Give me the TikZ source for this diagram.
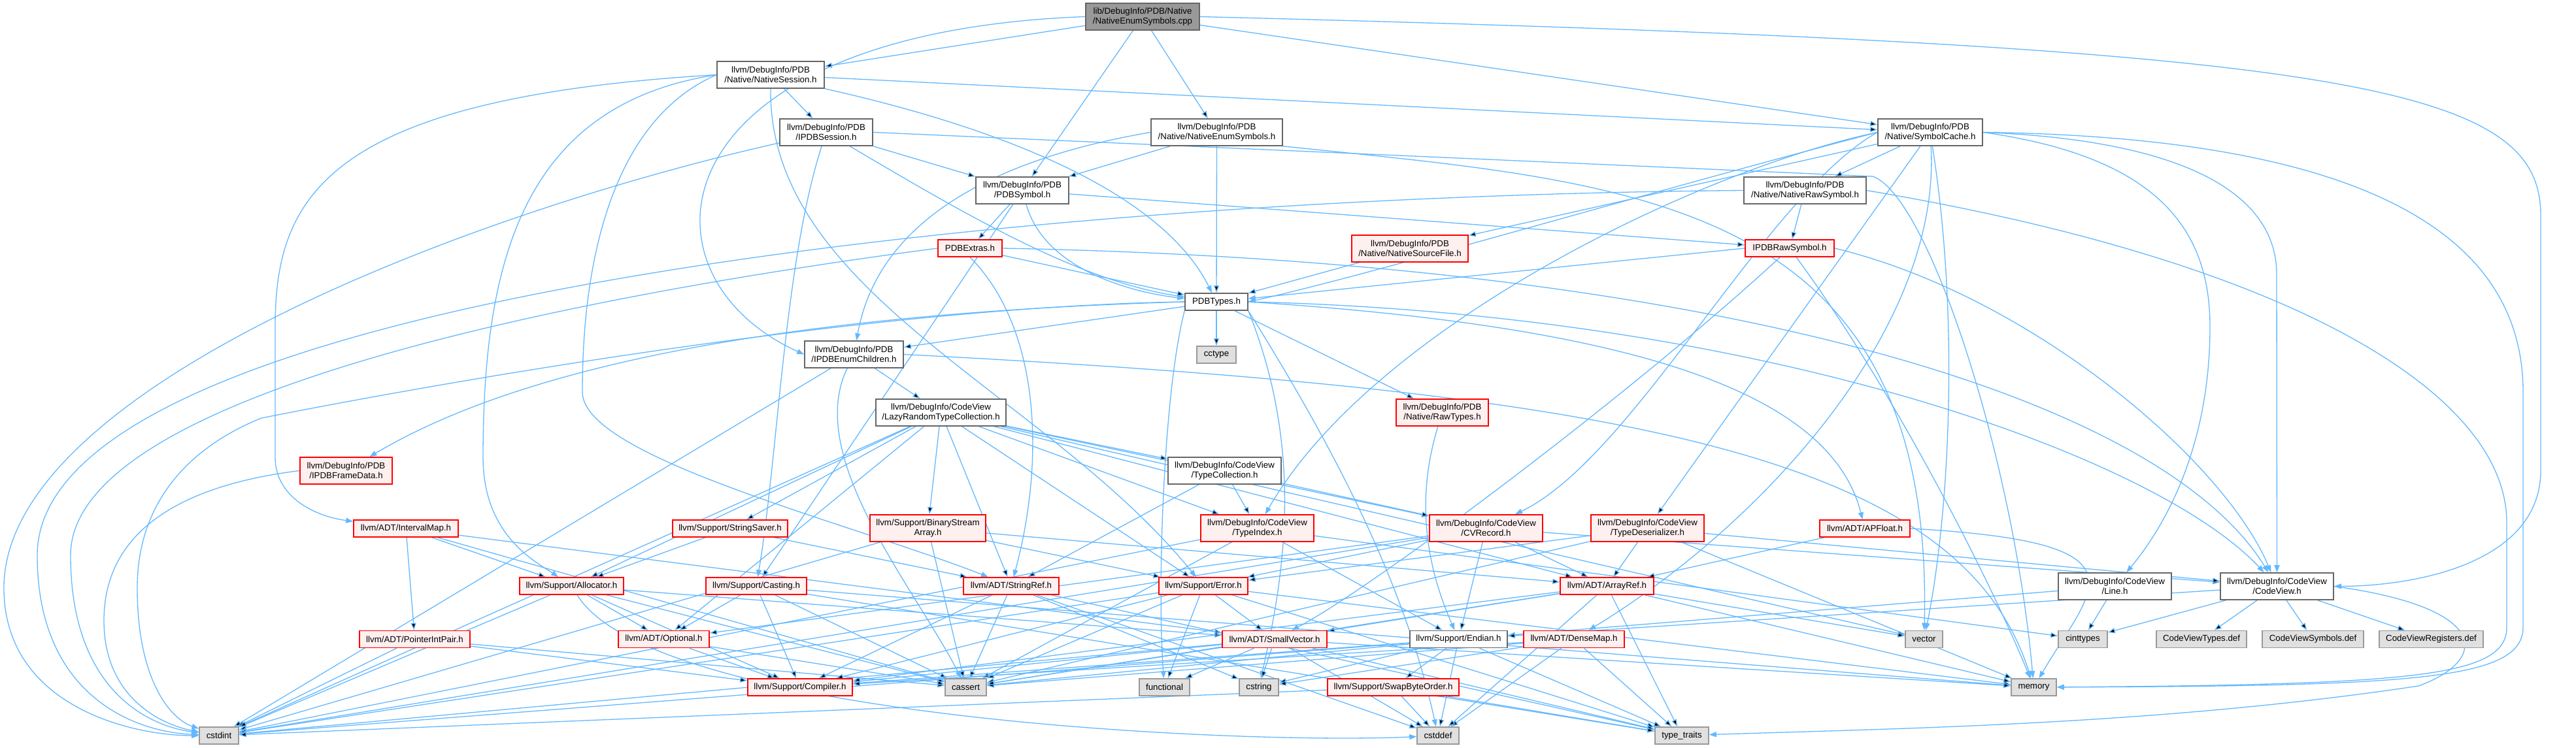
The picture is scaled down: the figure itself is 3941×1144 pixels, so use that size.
\documentclass[tikz,border=0pt]{standalone}
\usepackage{fontspec}
\setmainfont{Liberation Sans}
\usetikzlibrary{arrows.meta,backgrounds}
\definecolor{edgec}{HTML}{63B8FF}
\definecolor{redb}{HTML}{FF0000}
\definecolor{redf}{HTML}{FFF0F0}
\definecolor{sysf}{HTML}{E0E0E0}
\definecolor{sysb}{HTML}{999999}
\definecolor{normb}{HTML}{666666}
\definecolor{rootf}{HTML}{999999}
\tikzset{
 base/.style={rectangle, inner sep=0pt, align=center, font=\fontsize{13.3}{15}\selectfont, line width=1.6pt},
 nbox/.style={base, draw=normb, fill=white},
 rbox/.style={base, draw=redb, fill=redf},
 sbox/.style={base, draw=sysb, fill=sysf},
 rootbox/.style={base, draw=normb, fill=rootf},
 two/.style={minimum height=41pt},
 one/.style={minimum height=26pt},
 dep/.style={draw=edgec, line width=1.3pt, -{Triangle[length=11pt,width=8pt]}},
}
\begin{document}
\begin{tikzpicture}[x=1pt,y=-1pt]
\useasboundingbox (0,0) rectangle (3941,1144);
% ---------- nodes ----------
\node[rootbox,two,minimum width=174pt] (root) at (1748,25.5) {lib/DebugInfo/PDB/Native\\/NativeEnumSymbols.cpp};
\node[nbox,two,minimum width=164pt] (nsess) at (1179,114.5) {llvm/DebugInfo/PDB\\/Native/NativeSession.h};
\node[nbox,two,minimum width=142pt] (ipdbsess) at (1264,202.5) {llvm/DebugInfo/PDB\\/IPDBSession.h};
\node[nbox,two,minimum width=201pt] (nes) at (1861.5,202.5) {llvm/DebugInfo/PDB\\/Native/NativeEnumSymbols.h};
\node[nbox,two,minimum width=142pt] (pdbsym) at (1564,291.5) {llvm/DebugInfo/PDB\\/PDBSymbol.h};
\node[rbox,one,minimum width=98pt] (pdbextras) at (1484,380) {PDBExtras.h};
\node[nbox,one,minimum width=96pt] (pdbtypes) at (1861,462) {PDBTypes.h};
\node[sbox,one,minimum width=60pt] (cctype) at (1861,543) {cctype};
\node[nbox,two,minimum width=151pt] (enumch) at (1306.5,542.5) {llvm/DebugInfo/PDB\\/IPDBEnumChildren.h};
\node[nbox,two,minimum width=160pt] (symc) at (2953,202.5) {llvm/DebugInfo/PDB\\/Native/SymbolCache.h};
\node[nbox,two,minimum width=187pt] (nraw) at (2761.5,291.5) {llvm/DebugInfo/PDB\\/Native/NativeRawSymbol.h};
\node[rbox,two,minimum width=178pt] (nsrc) at (2157,380.5) {llvm/DebugInfo/PDB\\/Native/NativeSourceFile.h};
\node[rbox,one,minimum width=136pt] (ipdbraw) at (2738,380) {IPDBRawSymbol.h};
\node[rbox,two,minimum width=141pt] (frame) at (529.5,720.5) {llvm/DebugInfo/PDB\\/IPDBFrameData.h};
\node[rbox,one,minimum width=160pt] (imap) at (621,809) {llvm/ADT/IntervalMap.h};
\node[rbox,one,minimum width=159pt] (alloc) at (874.5,897) {llvm/Support/Allocator.h};
\node[rbox,one,minimum width=169pt] (pip) at (634.5,978.5) {llvm/ADT/PointerIntPair.h};
\node[sbox,one,minimum width=60pt] (cstdint) at (335,1126) {cstdint};
\node[rbox,one,minimum width=139pt] (optional) at (1015.5,978.5) {llvm/ADT/Optional.h};
\node[nbox,two,minimum width=199pt] (lazy) at (1439.5,631.5) {llvm/DebugInfo/CodeView\\/LazyRandomTypeCollection.h};
\node[nbox,two,minimum width=173pt] (tcoll) at (1873.5,720.5) {llvm/DebugInfo/CodeView\\/TypeCollection.h};
\node[rbox,one,minimum width=176pt] (ssaver) at (1117,809) {llvm/Support/StringSaver.h};
\node[rbox,two,minimum width=177pt] (bsa) at (1419.5,808.5) {llvm/Support/BinaryStream\\Array.h};
\node[rbox,two,minimum width=173pt] (tindex) at (1923.5,808.5) {llvm/DebugInfo/CodeView\\/TypeIndex.h};
\node[rbox,one,minimum width=154pt] (casting) at (1157,897) {llvm/Support/Casting.h};
\node[rbox,one,minimum width=146pt] (sref) at (1547,897) {llvm/ADT/StringRef.h};
\node[rbox,one,minimum width=136pt] (error) at (1841,897) {llvm/Support/Error.h};
\node[rbox,one,minimum width=160pt] (svec) at (1950,978.5) {llvm/ADT/SmallVector.h};
\node[rbox,one,minimum width=160pt] (compiler) at (1224,1052) {llvm/Support/Compiler.h};
\node[sbox,one,minimum width=63pt] (cassert) at (1477.5,1052) {cassert};
\node[sbox,one,minimum width=77pt] (functional) at (1781.5,1052) {functional};
\node[sbox,one,minimum width=60pt] (cstring) at (1926,1052) {cstring};
\node[rbox,two,minimum width=141pt] (rawtypes) at (2206.5,631.5) {llvm/DebugInfo/PDB\\/Native/RawTypes.h};
\node[rbox,two,minimum width=173pt] (cvrec) at (2273.5,808.5) {llvm/DebugInfo/CodeView\\/CVRecord.h};
\node[rbox,two,minimum width=173pt] (tdeser) at (2520.5,808.5) {llvm/DebugInfo/CodeView\\/TypeDeserializer.h};
\node[rbox,one,minimum width=138pt] (apfloat) at (2853,809) {llvm/ADT/APFloat.h};
\node[rbox,one,minimum width=143pt] (aref) at (2458.5,897) {llvm/ADT/ArrayRef.h};
\node[nbox,one,minimum width=149pt] (endian) at (2231.5,978.5) {llvm/Support/Endian.h};
\node[rbox,one,minimum width=154pt] (densemap) at (2408,978.5) {llvm/ADT/DenseMap.h};
\node[rbox,one,minimum width=201pt] (swap) at (2131.5,1052) {llvm/Support/SwapByteOrder.h};
\node[sbox,one,minimum width=64pt] (cstddef) at (2200,1126) {cstddef};
\node[sbox,one,minimum width=82pt] (ttraits) at (2573,1126) {type\_traits};
\node[sbox,one,minimum width=57pt] (vector) at (2943.5,978.5) {vector};
\node[nbox,two,minimum width=173pt] (line) at (3235.5,897.5) {llvm/DebugInfo/CodeView\\/Line.h};
\node[nbox,two,minimum width=173pt] (cv) at (3483.5,897.5) {llvm/DebugInfo/CodeView\\/CodeView.h};
\node[sbox,one,minimum width=75pt] (cinttypes) at (3186.5,978.5) {cinttypes};
\node[sbox,one,minimum width=138pt] (cvtypes) at (3368,978.5) {CodeViewTypes.def};
\node[sbox,one,minimum width=155pt] (cvsyms) at (3538.5,978.5) {CodeViewSymbols.def};
\node[sbox,one,minimum width=159pt] (cvregs) at (3719.5,978.5) {CodeViewRegisters.def};
\node[sbox,one,minimum width=69pt] (memory) at (3111.5,1052) {memory};
% ---------- edges ----------
\begin{pgfonlayer}{background}
% root
\draw[dep] (root) edge (nsess) edge (pdbsym) edge (nes) edge (symc);
\draw[dep] (root.west) .. controls (1000,50) and (960,420) .. (enumch.west);
\draw[dep] (root.east) .. controls (3600,70) and (3887,130) .. (3887,330) -- (3887,720) .. controls (3887,860) and (3700,897) .. (cv.east);
% NativeSession
\draw[dep] (nsess) edge (ipdbsess) edge (symc);
\draw[dep] (nsess.south east) .. controls (1550,200) and (1780,300) .. (pdbtypes);
\draw[dep] (nsess.west) .. controls (500,150) and (421,300) .. (421,500) -- (421,700) .. controls (421,760) and (480,790) .. (imap);
\draw[dep] (nsess.west) .. controls (800,160) and (739,400) .. (739,700) .. controls (739,820) and (820,860) .. (alloc);
\draw[dep] (nsess.west) .. controls (900,200) and (891,500) .. (891,600) .. controls (891,700) and (1300,800) .. (sref);
\draw[dep] (nsess.south) .. controls (1175,450) and (1600,600) .. (error);
% IPDBSession
\draw[dep] (ipdbsess) edge (pdbsym);
\draw[dep] (ipdbsess) .. controls (1480,330) and (1650,430) .. (pdbtypes);
\draw[dep] (ipdbsess.east) -- (2865,270) .. controls (2950,300) and (3080,700) .. (memory);
\draw[dep] (ipdbsess) .. controls (700,330) and (6,600) .. (6,900) .. controls (6,1080) and (200,1126) .. (cstdint.west);
\draw[dep] (ipdbsess) .. controls (1200,400) and (1190,700) .. (casting);
% NativeEnumSymbols.h
\draw[dep] (nes) edge (pdbsym) edge (pdbtypes);
\draw[dep] (nes.west) .. controls (1600,230) and (1350,300) .. (enumch);
\draw[dep] (nes.south east) .. controls (2500,280) and (2960,300) .. (vector);
% PDBSymbol
\draw[dep] (pdbsym) edge (ipdbraw) edge (pdbextras) edge (casting);
\draw[dep] (pdbsym) .. controls (1600,420) and (1750,450) .. (pdbtypes);
% PDBExtras
\draw[dep] (pdbextras) edge (pdbtypes);
\draw[dep] (pdbextras.east) .. controls (2600,400) and (3300,600) .. (cv);
\draw[dep] (pdbextras.west) .. controls (900,450) and (108,600) .. (108,850) .. controls (108,1050) and (220,1110) .. (cstdint);
\draw[dep] (pdbextras.south) .. controls (1590,500) and (1600,700) .. (sref);
% PDBTypes
\draw[dep] (pdbtypes) edge (cctype) edge (enumch) edge (rawtypes);
\draw[dep] (pdbtypes.west) .. controls (1200,480) and (800,560) .. (frame);
\draw[dep] (pdbtypes.east) .. controls (2500,500) and (2800,600) .. (apfloat);
\draw[dep] (pdbtypes.east) .. controls (2700,480) and (3300,700) .. (cv);
\draw[dep] (pdbtypes.south east) .. controls (2050,700) and (2150,900) .. (cstddef);
\draw[dep] (pdbtypes.west) .. controls (1300,470) and (600,600) .. (400,640) .. controls (300,680) and (210,760) .. (210,900) .. controls (210,1040) and (260,1100) .. (cstdint);
\draw[dep] (pdbtypes.south east) .. controls (2000,700) and (1960,900) .. (cstring);
\draw[dep] (pdbtypes.south west) .. controls (1780,600) and (1770,900) .. (functional);
% IPDBEnumChildren
\draw[dep] (enumch) edge (lazy) edge (cstdint);
\draw[dep] (enumch.east) .. controls (2500,600) and (3000,700) .. (memory);
\draw[dep] (enumch) .. controls (1230,700) and (1400,900) .. (cassert);
% SymbolCache
\draw[dep] (symc) edge (nraw) edge (nsrc) edge (tdeser);
\draw[dep] (symc.west) .. controls (2500,300) and (2100,420) .. (pdbtypes.east);
\draw[dep] (symc.west) .. controls (2700,300) and (2500,700) .. (cvrec);
\draw[dep] (symc.west) .. controls (2600,260) and (2100,500) .. (tindex);
\draw[dep] (symc) .. controls (2970,500) and (2700,800) .. (densemap);
\draw[dep] (symc.east) .. controls (3300,240) and (3381,350) .. (3381,500) .. controls (3381,700) and (3300,820) .. (line);
\draw[dep] (symc.east) .. controls (3350,215) and (3483,300) .. (3483,420) -- (cv);
\draw[dep] (symc.east) .. controls (3600,210) and (3860,350) .. (3860,600) -- (3860,960) .. controls (3860,1040) and (3700,1050) .. (memory);
\draw[dep] (symc) .. controls (3000,500) and (2980,800) .. (vector);
% NativeRawSymbol
\draw[dep] (nraw) edge (ipdbraw);
\draw[dep] (nraw.west) .. controls (1600,300) and (57,450) .. (57,850) .. controls (57,1060) and (200,1120) .. (cstdint);
\draw[dep] (nraw.east) .. controls (3500,400) and (3835,600) .. (3835,800) -- (3835,960) .. controls (3835,1035) and (3700,1048) .. (memory);
% IPDBRawSymbol
\draw[dep] (ipdbraw.west) -- (pdbtypes);
\draw[dep] (ipdbraw) .. controls (2500,600) and (2100,900) .. (svec);
\draw[dep] (ipdbraw.east) .. controls (3100,450) and (3400,700) .. (cv);
\draw[dep] (ipdbraw) .. controls (2900,600) and (3050,900) .. (memory);
% NativeSourceFile, RawTypes, FrameData
\draw[dep] (nsrc) edge (pdbtypes);
\draw[dep] (rawtypes) .. controls (2170,750) and (2175,850) .. (endian);
\draw[dep] (frame.west) .. controls (300,740) and (159,800) .. (159,950) .. controls (159,1070) and (250,1110) .. (cstdint);
% IntervalMap
\draw[dep] (imap) edge (pip) edge (alloc) edge (svec) edge (cassert);
% Allocator
\draw[dep] (alloc) edge (optional) edge (svec) edge (compiler) edge (cassert) edge (cstdint);
\draw[dep] (alloc) .. controls (1000,1100) and (1900,1140) .. (cstddef);
% PointerIntPair, Optional, Casting
\draw[dep] (pip) edge (compiler) edge (cassert) edge (cstdint);
\draw[dep] (optional) edge (compiler) edge (cassert);
\draw[dep] (casting) edge (optional) edge (compiler) edge (cassert) edge (memory) edge (ttraits);
% LazyRandomTypeCollection
\draw[dep] (lazy) edge (tcoll) edge (tindex) edge (cvrec) edge (ssaver) edge (bsa) edge (sref) edge (error) edge (aref) edge (optional) edge (alloc) edge (cstdint) edge (vector);
% TypeCollection, StringSaver, BinaryStreamArray, TypeIndex
\draw[dep] (tcoll) edge (sref) edge (tindex) edge (cvrec);
\draw[dep] (ssaver) edge (sref) edge (alloc);
\draw[dep] (bsa) edge (aref) edge (error) edge (cassert) edge (cstdint);
\draw[dep] (tindex) edge (endian) edge (cinttypes) edge (cassert) edge (cstdint);
% CVRecord, TypeDeserializer, APFloat
\draw[dep] (cvrec) edge (aref) edge (endian) edge (error) edge (optional) edge (cv) edge (cstdint);
\draw[dep] (tdeser) edge (aref) edge (error) edge (cv) edge (cassert) edge (memory);
\draw[dep] (apfloat) edge (aref);
\draw[dep] (apfloat.east) .. controls (3300,830) and (3200,900) .. (memory);
% StringRef, Error, SmallVector
\draw[dep] (sref) edge (compiler) edge (cassert) edge (cstddef) edge (cstring) edge (ttraits);
\draw[dep] (error) edge (compiler) edge (svec) edge (cassert) edge (cstdint) edge (functional) edge (memory) edge (ttraits);
\draw[dep] (svec) edge (compiler) edge (cassert) edge (cstddef) edge (cstdint) edge (cstring) edge (functional) edge (memory) edge (ttraits);
% Endian, DenseMap, SwapByteOrder, ArrayRef
\draw[dep] (endian) edge (swap) edge (compiler) edge (cassert) edge (cstddef) edge (cstdint) edge (cstring) edge (ttraits);
\draw[dep] (densemap) edge (compiler) edge (cassert) edge (cstddef) edge (cstring) edge (ttraits);
\draw[dep] (swap) edge (cstddef) edge (cstdint) edge (ttraits);
\draw[dep] (aref) edge (svec) edge (cassert) edge (cstddef) edge (memory) edge (ttraits) edge (vector) edge (compiler);
% Line, CodeView
\draw[dep] (line) edge (endian) edge (cinttypes);
\draw[dep] (cv) edge (cinttypes) edge (cvtypes) edge (cvsyms) edge (cvregs) edge (endian);
\draw[dep] (cv.east) .. controls (3810,930) and (3810,1010) .. (3700,1050) .. controls (3300,1110) and (2900,1115) .. (ttraits);
\end{pgfonlayer}
\end{tikzpicture}
\end{document}
